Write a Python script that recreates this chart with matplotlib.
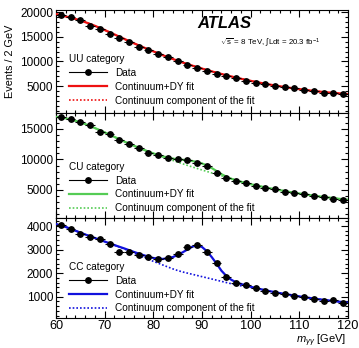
import numpy as np
import matplotlib
matplotlib.use("Agg")
import matplotlib.pyplot as plt
from matplotlib.ticker import MultipleLocator, FixedLocator
from matplotlib.lines import Line2D

plt.rcParams['font.family'] = ['Liberation Sans', 'DejaVu Sans']
plt.rcParams['mathtext.fontset'] = 'custom'
plt.rcParams['mathtext.rm'] = 'Liberation Sans'
plt.rcParams['mathtext.it'] = 'Liberation Sans:italic'

# ---------------- data ----------------
bin_centers = [61, 63, 65, 67, 69, 71, 73, 75, 77, 79, 81, 83, 85, 87, 89,
               91, 93, 95, 97, 99, 101, 103, 105, 107, 109, 111, 113, 115, 117, 119]

uu_data = [19400, 18950, 18400, 17300, 16700, 15600, 14700, 13900, 12900, 12300,
           11500, 10850, 10100, 9300, 8620, 8000, 7460, 7050, 6580, 6100,
           5690, 5430, 5020, 4760, 4550, 4200, 4070, 3660, 3540, 3450]
cu_data = [16900, 16590, 16100, 15660, 14560, 14180, 13200, 12490, 11830, 11110,
           10740, 10290, 10030, 9950, 9470, 8930, 7730, 6920, 6470, 6100,
           5650, 5370, 5110, 4720, 4450, 4290, 4010, 3800, 3520, 3360]
cc_data = [4040, 3860, 3660, 3545, 3450, 3230, 2905, 2880, 2765, 2695,
           2580, 2650, 2810, 3120, 3190, 2880, 2410, 1840, 1560, 1490,
           1350, 1230, 1160, 1105, 1020, 990, 920, 820, 850, 735]

fit_x = [60, 62, 64, 66, 68, 70, 72, 74, 76, 78, 80, 82, 84, 85, 86, 87, 88, 89,
         90, 91, 92, 93, 94, 95, 96, 97, 98, 100, 102, 104, 106, 108, 110, 112,
         114, 116, 118, 120]

uu_fit = [19650, 19150, 18650, 18000, 17250, 16400, 15500, 14600, 13700, 12850,
          12050, 11250, 10500, 10150, 9800, 9470, 9150, 8850, 8550, 8260, 7980,
          7710, 7450, 7200, 6950, 6710, 6480, 6050, 5650, 5280, 4950, 4640, 4360,
          4110, 3880, 3680, 3510, 3370]
uu_cont = uu_fit

cu_fit = [17000, 16750, 16350, 15800, 15150, 14450, 13700, 12950, 12250, 11600,
          11000, 10500, 10150, 10020, 9950, 9870, 9750, 9580, 9350, 9020, 8600,
          8100, 7600, 7180, 6850, 6580, 6350, 5950, 5600, 5270, 4970, 4680, 4420,
          4180, 3960, 3760, 3570, 3400]
cu_cont = [17000, 16750, 16350, 15800, 15150, 14450, 13700, 12950, 12250, 11600,
           10980, 10400, 9850, 9570, 9300, 9040, 8780, 8530, 8280, 8040, 7800,
           7560, 7330, 7100, 6880, 6630, 6400, 5960, 5600, 5270, 4970, 4680, 4420,
           4180, 3960, 3760, 3570, 3400]

cc_fit = [4080, 3960, 3800, 3640, 3490, 3340, 3190, 3050, 2900, 2760,
          2640, 2600, 2680, 2770, 2880, 3000, 3120, 3180, 3110, 2930, 2680,
          2400, 2100, 1880, 1720, 1610, 1540, 1420, 1320, 1230, 1150, 1080, 1010,
          950, 890, 840, 790, 750]
cc_cont = [4080, 3960, 3800, 3640, 3490, 3340, 3190, 3030, 2850, 2670,
           2500, 2340, 2180, 2110, 2050, 2000, 1950, 1900, 1850, 1800, 1750,
           1700, 1650, 1600, 1550, 1500, 1460, 1390, 1310, 1230, 1150, 1080, 1010,
           950, 890, 840, 790, 750]

category_names = ['UU category', 'CU category', 'CC category']
legend_labels = ['Data', 'Continuum+DY fit', 'Continuum component of the fit']

panels = [
    dict(name=category_names[0], data=uu_data, fit=uu_fit, cont=uu_cont, color='#ee1111',
         ylim=(-490, 20470), yticks=[5000, 10000, 15000, 20000], minor=1000, legy=0.571),
    dict(name=category_names[1], data=cu_data, fit=cu_fit, cont=cu_cont, color='#55cc55',
         ylim=(410, 17620), yticks=[5000, 10000, 15000], minor=1000, legy=0.535),
    dict(name=category_names[2], data=cc_data, fit=cc_fit, cont=cc_cont, color='#1111dd',
         ylim=(94, 4340), yticks=[1000, 2000, 3000, 4000], minor=200, legy=0.56),
]

W, H = 359, 348
fig = plt.figure(figsize=(W / 100, H / 100), dpi=100)
left, right = 56 / W, 348 / W
bounds = [(10, 113), (113, 218), (218, 318)]

for i, (p, (t, b)) in enumerate(zip(panels, bounds)):
    ax = fig.add_axes([left, 1 - b / H, right - left, (b - t) / H])
    c = p['color']
    ax.plot(fit_x, p['cont'], color=c, lw=1.2, ls=(0, (1, 1.2)), zorder=2)
    ax.plot(fit_x, p['fit'], color=c, lw=1.6, zorder=3)
    ax.errorbar(bin_centers, p['data'], xerr=1, yerr=np.sqrt(p['data']),
                fmt='o', color='black', ms=3.9, elinewidth=0.8, capsize=0, zorder=4)
    ax.set_xlim(60, 120)
    ax.set_ylim(*p['ylim'])
    ax.yaxis.set_major_locator(FixedLocator(p['yticks']))
    ax.yaxis.set_minor_locator(MultipleLocator(p['minor']))
    ax.xaxis.set_major_locator(MultipleLocator(10))
    ax.xaxis.set_minor_locator(MultipleLocator(2))
    ax.tick_params(which='both', direction='in', top=True, right=True, width=0.8)
    ax.tick_params(which='major', length=5)
    ax.tick_params(which='minor', length=2.5)
    ax.tick_params(axis='y', labelsize=8.5, pad=2)
    ax.tick_params(axis='x', labelsize=9.2, pad=1.5)
    for s in ax.spines.values():
        s.set_linewidth(0.8)
    if i < 2:
        ax.tick_params(axis='x', labelbottom=False)
    handles = [Line2D([], [], color='black', marker='o', ms=3.9, lw=0.8),
               Line2D([], [], color=c, lw=1.6),
               Line2D([], [], color=c, lw=1.2, ls=(0, (1, 1.2)))]
    ax.legend(handles, legend_labels, title=p['name'], loc='upper left',
              bbox_to_anchor=(0.045, p['legy']), frameon=False, fontsize=7.2,
              title_fontsize=7.2, alignment='left', handlelength=3.8,
              handletextpad=0.8, labelspacing=0.38, numpoints=1, borderpad=0,
              borderaxespad=0)
    if i == 0:
        ax.text(0.485, 0.87, 'ATLAS', transform=ax.transAxes, fontsize=12,
                fontweight='bold', fontstyle='italic', va='center')
        ax.text(0.56, 0.68, r'$\sqrt{\mathrm{s}}$ = 8 TeV, $\int$Ldt = 20.3 fb$^{-1}$',
                transform=ax.transAxes, fontsize=5.7, va='center')
        ax.set_ylabel('Events / 2 GeV', fontsize=7.8, labelpad=4)
    if i == 2:
        ax.set_xlabel(r'$m_{\gamma\gamma}$ [GeV]', fontsize=8.0, ha='right', va='top')
        ax.xaxis.set_label_coords(0.995, -0.15)

fig.savefig('out.png', dpi=100)
